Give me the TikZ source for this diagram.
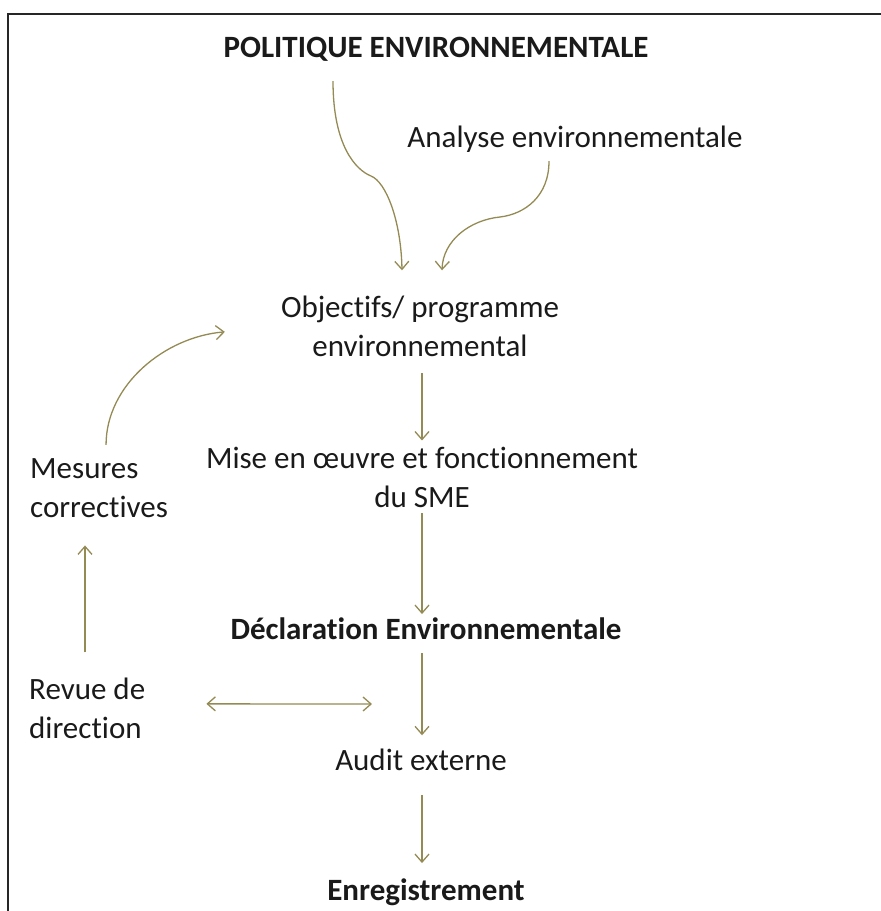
\documentclass[tikz,border=0pt]{standalone}
\usepackage{fontspec}
\setmainfont{Carlito}[Ligatures=NoCommon]
\usetikzlibrary{arrows.meta,calc}
\definecolor{olive}{RGB}{148,138,84}
\definecolor{ink}{RGB}{26,26,26}
\begin{document}
\begin{tikzpicture}[x=1pt,y=-1pt,
  txt/.style={inner sep=0pt, text=ink, font=\fontsize{31}{39}\selectfont},
  boldtxt/.style={txt, font=\fontsize{31}{39}\selectfont\bfseries},
  ctr/.style={txt, align=center},
  lft/.style={txt, align=left},
  arr/.style={draw=olive, line width=1.3pt, -{Straight Barb[length=8pt,width=14pt]}},
  darr/.style={draw=olive, line width=1.3pt, {Straight Barb[length=8pt,width=14pt]}-{Straight Barb[length=8pt,width=14pt]}},
  frame/.style={draw=black!85, line width=2pt}]
\useasboundingbox (0,0) rectangle (881,911);
\draw[frame] (8,911) -- (8,14) -- (881,14);

% nodes (multi-line nodes: base = last line's baseline)
\node[boldtxt, anchor=base] (pol) at (436,57) {POLITIQUE ENVIRONNEMENTALE};
\node[txt, anchor=base] (ana) at (575,147) {Analyse environnementale};
\node[ctr, anchor=base] (obj) at (420,356) {Objectifs/ programme\\environnemental};
\node[ctr, anchor=base] (mise) at (422,507) {Mise en œuvre et fonctionnement\\du SME};
\node[boldtxt, anchor=base] (decl) at (426,639) {Déclaration Environnementale};
\node[txt, anchor=base] (audit) at (421,770) {Audit externe};
\node[boldtxt, anchor=base] (enr) at (426,900) {Enregistrement};
\node[lft, anchor=base west] (mes) at (30,517) {Mesures\\correctives};
\node[lft, anchor=base west] (rev) at (29,738) {Revue de\\direction};

% helper coordinates
\coordinate (axis) at (422,0);
\coordinate (laxis) at (85,0);
\coordinate (k1) at (371,176);
\coordinate (k2) at (500,217);
\coordinate (da) at (372,704);

% connectors
\draw[arr] ($(pol.south)+(-103,20)$) .. controls +(0,65) and +(-15,-6) .. (k1)
  .. controls +(15,6) and +(-1,-50) .. ($(obj.north)+(-18,-25)$);
\draw[arr] ($(ana.south)+(-26,9)$) .. controls +(0,35) and +(25,-3) .. (k2)
  .. controls +(-30,3) and +(1,-30) .. ($(obj.north)+(22,-25)$);
\draw[arr, shorten <=17pt, shorten >=6pt] (obj.south -| axis) -- (mise.north -| axis);
\draw[arr, shorten <=6pt, shorten >=3pt] (mise.south -| axis) -- (decl.north -| axis);
\draw[arr, shorten <=14pt, shorten >=13pt] (decl.south -| axis) -- (audit.north -| axis);
\draw[arr, shorten <=25pt, shorten >=15pt] (audit.south -| axis) -- (enr.north -| axis);
\draw[arr, shorten <=25pt, shorten >=28pt] (rev.north -| laxis) -- (mes.south -| laxis);
\draw[darr] ($(rev.east)+(61,-4)$) -- (da);
\draw[arr] ($(mes.north)+(7,-13)$) .. controls +(0,-60) and +(-60,5) .. ($(obj.west)+(-56,6)$);
\end{tikzpicture}
\end{document}
